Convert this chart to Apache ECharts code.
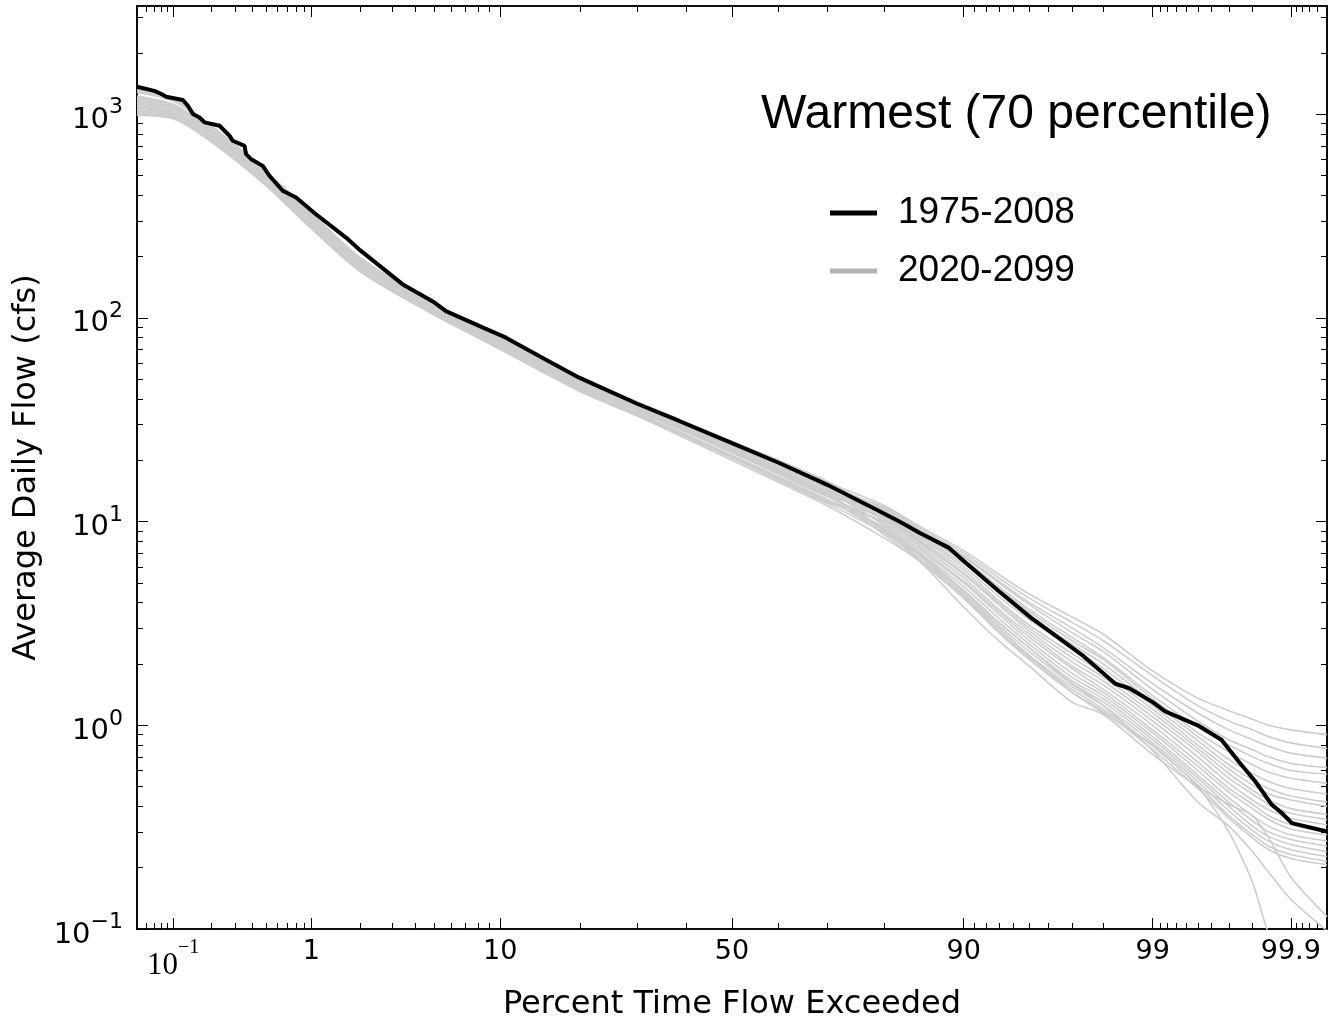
<!DOCTYPE html>
<html>
<head>
<meta charset="utf-8">
<script src="https://cdn.jsdelivr.net/npm/echarts@6/dist/echarts.min.js"></script>
<style>
  html, body { margin: 0; padding: 0; background: #fff; }
  #chart { width: 1328px; height: 1018px; }
</style>
</head>
<body>
<div id="chart"></div>
<script>
// historic run, 1975-2008: percent of time exceeded / flow (cfs)
const histPercent = [0.05, 0.070, 0.080, 0.0877, 0.1195, 0.131, 0.1435, 0.1615, 0.1767, 0.230,
  0.273, 0.288, 0.351, 0.360, 0.392, 0.473, 0.526, 0.648, 0.796, 1.07,
  1.64, 2, 3.42, 5, 5.68, 8.1, 10.56, 15, 19.9, 30,
  38.5, 50, 60.2, 70, 79.1, 82.2, 85, 88.5, 90, 93,
  95.1, 97.35, 98.3, 98.6, 99, 99.17, 99.5, 99.66, 99.745, 99.81,
  99.858, 99.882, 99.902, 99.95];
const histFlow = [1365, 1303, 1257, 1219, 1175, 1101, 1002, 964, 912, 878,
  783, 741, 700, 637, 602, 558, 499, 421, 390, 323,
  248, 214, 146.5, 119, 108, 91.4, 80, 62.9, 50.9, 37.9,
  31.2, 24.3, 19.45, 15.2, 11.3, 10.05, 8.81, 7.43, 6.4, 4.55,
  3.37, 2.22, 1.6, 1.52, 1.3, 1.17, 1.0, 0.85, 0.666, 0.53,
  0.408, 0.371, 0.331, 0.301];

// projected runs, 2020-2099, all sampled at the same percents
const futurePercent = [0.05, 0.1, 0.2, 0.5, 1, 2, 5, 10, 20, 30, 50, 70, 80, 85, 90, 93, 95, 97, 98, 99, 99.5, 99.7, 99.8, 99.85, 99.9, 99.95];
const futureRun01 = [1300, 1180, 870, 520, 325, 195, 117, 80, 51, 38.5, 24.5, 15.6, 12.0, 9.5, 7.2, 5.5, 4.4, 3.4, 2.8, 1.85, 1.36, 1.18, 1.07, 1.0, 0.95, 0.90];
const futureRun02 = [1200, 1100, 830, 500, 310, 188, 113, 77, 49, 37, 23.3, 14.6, 11.8, 9.3, 7.0, 5.3, 4.2, 3.2, 2.6, 1.75, 1.25, 1.05, 0.95, 0.88, 0.82, 0.77];
const futureRun03 = [1280, 1160, 860, 515, 320, 193, 116, 79, 50.5, 38, 24, 15.2, 11.6, 9.1, 6.8, 5.1, 4.0, 3.0, 2.4, 1.6, 1.15, 0.95, 0.85, 0.79, 0.73, 0.69];
const futureRun04 = [1140, 1060, 810, 488, 302, 183, 111, 76, 48, 36.2, 22.6, 14.0, 11.5, 9.0, 6.7, 5.0, 3.9, 2.85, 2.3, 1.5, 1.05, 0.85, 0.76, 0.70, 0.65, 0.62];
const futureRun05 = [1230, 1120, 840, 505, 315, 190, 114, 78, 49.5, 37.5, 23.6, 14.9, 11.3, 8.8, 6.5, 4.8, 3.7, 2.7, 2.15, 1.4, 0.98, 0.80, 0.70, 0.65, 0.60, 0.575];
const futureRun06 = [1080, 1010, 780, 475, 294, 178, 108, 74, 46.5, 35.2, 22, 13.5, 11.2, 8.7, 6.4, 4.7, 3.6, 2.6, 2.1, 1.35, 0.92, 0.74, 0.64, 0.59, 0.55, 0.52];
const futureRun07 = [1160, 1070, 815, 492, 305, 185, 112, 76.5, 48.5, 36.5, 22.8, 14.2, 11.0, 8.5, 6.2, 4.5, 3.45, 2.5, 2.0, 1.3, 0.88, 0.68, 0.58, 0.53, 0.49, 0.46];
const futureRun08 = [1320, 1200, 880, 525, 328, 197, 118, 80.5, 51.5, 38.8, 24.8, 15.8, 10.8, 8.3, 6.0, 4.3, 3.3, 2.4, 1.9, 1.25, 0.84, 0.64, 0.54, 0.49, 0.45, 0.42];
const futureRun09 = [1000, 960, 740, 450, 278, 170, 104, 71, 44, 33.5, 20.6, 12.4, 10.6, 8.1, 5.8, 4.1, 3.1, 2.25, 1.8, 1.2, 0.80, 0.61, 0.51, 0.46, 0.43, 0.40];
const futureRun10 = [1100, 1030, 790, 480, 296, 180, 109, 74.5, 47, 35.5, 22.2, 13.7, 10.5, 8.0, 5.6, 4.0, 3.0, 2.15, 1.72, 1.15, 0.77, 0.58, 0.48, 0.43, 0.39, 0.365];
const futureRun11 = [1180, 1090, 825, 498, 308, 187, 112.5, 77, 49, 36.8, 23.2, 14.5, 10.4, 7.9, 5.5, 3.9, 2.9, 2.05, 1.65, 1.1, 0.74, 0.55, 0.46, 0.41, 0.37, 0.345];
const futureRun12 = [1120, 1050, 805, 485, 300, 182, 110, 75.5, 47.8, 36, 22.5, 13.9, 10.2, 7.7, 5.3, 3.7, 2.8, 1.95, 1.58, 1.05, 0.70, 0.52, 0.43, 0.385, 0.35, 0.325];
const futureRun13 = [1030, 975, 750, 455, 282, 172, 105, 72, 44.8, 34, 21, 12.8, 10.0, 7.5, 5.1, 3.6, 2.7, 1.9, 1.5, 1.0, 0.66, 0.49, 0.41, 0.36, 0.325, 0.30];
const futureRun14 = [1060, 1000, 770, 470, 290, 176, 107, 73.5, 46, 35, 21.8, 13.3, 9.8, 7.3, 5.0, 3.5, 2.6, 1.8, 1.45, 0.95, 0.63, 0.47, 0.39, 0.345, 0.31, 0.29];
const futureRun15 = [1150, 1065, 812, 490, 303, 184, 111, 76, 48.2, 36.3, 22.7, 14.1, 9.6, 7.1, 4.8, 3.35, 2.5, 1.72, 1.4, 0.92, 0.60, 0.44, 0.36, 0.32, 0.29, 0.27];
const futureRun16 = [1010, 965, 745, 452, 280, 171, 104.5, 71.5, 44.5, 33.8, 20.8, 12.6, 9.4, 6.9, 4.6, 3.2, 2.4, 1.65, 1.35, 0.88, 0.57, 0.42, 0.34, 0.30, 0.275, 0.255];
const futureRun17 = [1090, 1020, 785, 478, 295, 179, 108.5, 74, 46.8, 35.4, 22.1, 13.6, 9.2, 6.8, 4.5, 3.1, 2.3, 1.6, 1.3, 0.85, 0.55, 0.40, 0.32, 0.285, 0.26, 0.24];
const futureRun18 = [1210, 1105, 835, 502, 312, 189, 113.5, 77.5, 49.2, 37.2, 23.4, 14.7, 9.0, 6.6, 4.4, 3.0, 2.2, 1.55, 1.25, 0.82, 0.53, 0.38, 0.305, 0.27, 0.245, 0.227];
const futureRun19 = [990, 955, 735, 448, 276, 169, 103.5, 70.5, 43.8, 33.3, 20.5, 12.3, 8.8, 6.5, 4.3, 2.9, 2.15, 1.5, 1.2, 0.79, 0.51, 0.36, 0.29, 0.255, 0.232, 0.215];
const futureRun20 = [1130, 1055, 808, 486, 301, 182.5, 110.5, 75.8, 47.9, 36.1, 22.5, 13.9, 8.6, 6.4, 4.2, 2.85, 2.1, 1.45, 1.17, 0.76, 0.49, 0.35, 0.28, 0.245, 0.222, 0.207];
const futureRun21 = [990, 950, 730, 445, 274, 168, 103, 70, 43.5, 33, 20.0, 12.0, 8.3, 6.4, 3.8, 2.6, 1.95, 1.3, 1.13, 0.72, 0.50, 0.41, 0.36, 0.28, 0.18, 0.115];
const futureRun22 = [1040, 985, 755, 460, 285, 173, 105.5, 72.5, 45.5, 34.3, 21.2, 12.9, 8.8, 6.8, 4.3, 3.0, 2.2, 1.45, 1.15, 0.8, 0.5, 0.3, 0.17, 0.095, 0.06, 0.04];
const futureRun23 = [1070, 1005, 775, 472, 292, 177, 107.5, 73.8, 46.3, 35.1, 21.9, 13.4, 9.0, 7.0, 4.6, 3.2, 2.4, 1.6, 1.25, 0.75, 0.42, 0.32, 0.24, 0.19, 0.14, 0.098];

const futureRuns = [futureRun01, futureRun02, futureRun03, futureRun04, futureRun05, futureRun06,
  futureRun07, futureRun08, futureRun09, futureRun10, futureRun11, futureRun12, futureRun13,
  futureRun14, futureRun15, futureRun16, futureRun17, futureRun18, futureRun19, futureRun20,
  futureRun21, futureRun22, futureRun23];

// tick marks of the probability axis (percent) and of the flow axis (cfs)
const xMajorPercent = [0.1, 1, 10, 50, 90, 99, 99.9];
const xMajorLabels = ['10^-1', '1', '10', '50', '90', '99', '99.9'];
const xMinorPercent = [0.06, 0.07, 0.08, 0.09, 0.2, 0.3, 0.4, 0.5, 0.6, 0.7, 0.8, 0.9,
  2, 3, 4, 5, 6, 7, 8, 9, 20, 30, 40, 60, 70, 80, 91, 92, 93, 94, 95, 96, 97, 98,
  99.1, 99.2, 99.3, 99.4, 99.5, 99.6, 99.7, 99.8, 99.91, 99.92, 99.93, 99.94];
const yMajorFlow = [0.1, 1, 10, 100, 1000];
const yMinorFlow = [0.2, 0.3, 0.4, 0.5, 0.6, 0.7, 0.8, 0.9, 2, 3, 4, 5, 6, 7, 8, 9,
  20, 30, 40, 50, 60, 70, 80, 90, 200, 300, 400, 500, 600, 700, 800, 900, 2000, 3000];

// inverse normal cdf (Acklam), the probability axis is linear in it
function probit(p) {
  const a = [-3.969683028665376e+01, 2.209460984245205e+02, -2.759285104469687e+02, 1.383577518672690e+02, -3.066479806614716e+01, 2.506628277459239e+00];
  const b = [-5.447609879822406e+01, 1.615858368580409e+02, -1.556989798598866e+02, 6.680131188771972e+01, -1.328068155288572e+01];
  const c = [-7.784894002430293e-03, -3.223964580411365e-01, -2.400758277161838e+00, -2.549732539343734e+00, 4.374664141464968e+00, 2.938163982698783e+00];
  const d = [7.784695709041462e-03, 3.224671290700398e-01, 2.445134137142996e+00, 3.754408661907416e+00];
  const pl = 0.02425;
  let q, r;
  if (p < pl) {
    q = Math.sqrt(-2 * Math.log(p));
    return (((((c[0] * q + c[1]) * q + c[2]) * q + c[3]) * q + c[4]) * q + c[5]) / ((((d[0] * q + d[1]) * q + d[2]) * q + d[3]) * q + 1);
  }
  if (p > 1 - pl) {
    q = Math.sqrt(-2 * Math.log(1 - p));
    return -(((((c[0] * q + c[1]) * q + c[2]) * q + c[3]) * q + c[4]) * q + c[5]) / ((((d[0] * q + d[1]) * q + d[2]) * q + d[3]) * q + 1);
  }
  q = p - 0.5;
  r = q * q;
  return (((((a[0] * r + a[1]) * r + a[2]) * r + a[3]) * r + a[4]) * r + a[5]) * q / (((((b[0] * r + b[1]) * r + b[2]) * r + b[3]) * r + b[4]) * r + 1);
}
const pz = (pct) => probit(pct / 100);

const X_MIN = pz(0.05), X_MAX = pz(99.95);
const xMajorZ = xMajorPercent.map(pz);
const xMinorZ = xMinorPercent.map(pz);

const tickLine = { lineStyle: { color: '#000', width: 1 } };

const xLabel = (val) => {
  const i = xMajorZ.findIndex(z => Math.abs(z - val) < 1e-6);
  if (i < 0) return '';
  if (i === 0) return '{sb|10}{ss|\u22121}';
  return xMajorLabels[i];
};

const makeX = (pos, major) => ({
  type: 'value',
  position: pos,
  min: X_MIN,
  max: X_MAX,
  axisLine: { show: true, onZero: false, lineStyle: { color: '#000', width: 1.6 } },
  splitLine: { show: false },
  axisTick: Object.assign({ show: true, inside: true, length: major ? 11 : 6, customValues: major ? xMajorZ : xMinorZ }, tickLine),
  axisLabel: (pos === 'bottom' && major) ? {
    show: true,
    customValues: xMajorZ,
    margin: 9,
    color: '#000',
    fontFamily: 'DejaVu Sans',
    fontSize: 27,
    formatter: xLabel,
    rich: {
      sb: { fontFamily: 'Liberation Serif', fontSize: 31, color: '#000', padding: [12, 0, 0, 0] },
      ss: { fontFamily: 'Liberation Serif', fontSize: 20, color: '#000', padding: [0, 0, 24, 0] }
    }
  } : { show: false }
});

const yLabel = (val) => {
  const e = Math.round(Math.log10(val));
  return '{b|10}{s|' + (e < 0 ? '\u2212' + (-e) : e) + '}';
};

const makeY = (pos, major) => ({
  type: 'log',
  logBase: 10,
  position: pos,
  min: 0.1,
  max: 3400,
  axisLine: { show: true, onZero: false, lineStyle: { color: '#000', width: 1.6 } },
  splitLine: { show: false },
  minorTick: { show: false },
  axisTick: Object.assign({ show: true, inside: true, length: major ? 11 : 6, customValues: major ? yMajorFlow : yMinorFlow }, tickLine),
  axisLabel: (pos === 'left' && major) ? {
    show: true,
    customValues: yMajorFlow,
    margin: 14,
    color: '#000',
    formatter: yLabel,
    rich: {
      b: { fontFamily: 'DejaVu Sans', fontSize: 29, color: '#000', padding: [12, 0, 0, 0] },
      s: { fontFamily: 'DejaVu Sans', fontSize: 22, color: '#000', padding: [0, 0, 13, 0] }
    }
  } : { show: false }
});

const xAxes = [makeX('bottom', true), makeX('bottom', false), makeX('top', true), makeX('top', false)];
xAxes[0].name = 'Percent Time Flow Exceeded';
xAxes[0].nameLocation = 'middle';
xAxes[0].nameGap = 60;
xAxes[0].nameTextStyle = { fontFamily: 'DejaVu Sans', fontSize: 32, color: '#000' };

const yAxes = [makeY('left', true), makeY('left', false), makeY('right', true), makeY('right', false)];
yAxes[0].name = 'Average Daily Flow (cfs)';
yAxes[0].nameLocation = 'middle';
yAxes[0].nameGap = 90;
yAxes[0].nameTextStyle = { fontFamily: 'DejaVu Sans', fontSize: 32, color: '#000' };

const toPoints = (pcts, flows) => pcts.map((p, i) => [pz(p), flows[i]]);

const series = futureRuns.map(run => ({
  name: '2020-2099',
  type: 'line',
  data: toPoints(futurePercent, run),
  symbol: 'none',
  smooth: 0.25,
  clip: true,
  z: 2,
  lineStyle: { color: '#cdcdcd', width: 1.6 },
  itemStyle: { color: '#cdcdcd' }
}));
series.push({
  name: '1975-2008',
  type: 'line',
  data: toPoints(histPercent, histFlow),
  symbol: 'none',
  clip: true,
  z: 3,
  lineStyle: { color: '#000', width: 4 },
  itemStyle: { color: '#000' }
});

const chart = echarts.init(document.getElementById('chart'));
chart.setOption({
  animation: false,
  backgroundColor: '#fff',
  title: {
    text: 'Warmest (70 percentile)',
    left: 761,
    top: 91,
    padding: 0,
    textStyle: { fontFamily: 'Liberation Sans', fontSize: 48, fontWeight: 'normal', color: '#000' }
  },
  legend: {
    orient: 'vertical',
    left: 830,
    top: 193,
    padding: 0,
    itemWidth: 47,
    itemHeight: 5,
    itemGap: 18,
    selectedMode: false,
    textStyle: { fontFamily: 'Liberation Sans', fontSize: 37, lineHeight: 40, color: '#000', padding: [0, 0, 0, 16] },
    data: [
      { name: '1975-2008', icon: 'rect', itemStyle: { color: '#000' } },
      { name: '2020-2099', icon: 'rect', itemStyle: { color: '#b3b3b3' } }
    ]
  },
  grid: { left: 137, right: 1, top: 6, bottom: 89, containLabel: false, outerBoundsMode: 'none' },
  xAxis: xAxes,
  yAxis: yAxes,
  series: series
});
</script>
</body>
</html>
